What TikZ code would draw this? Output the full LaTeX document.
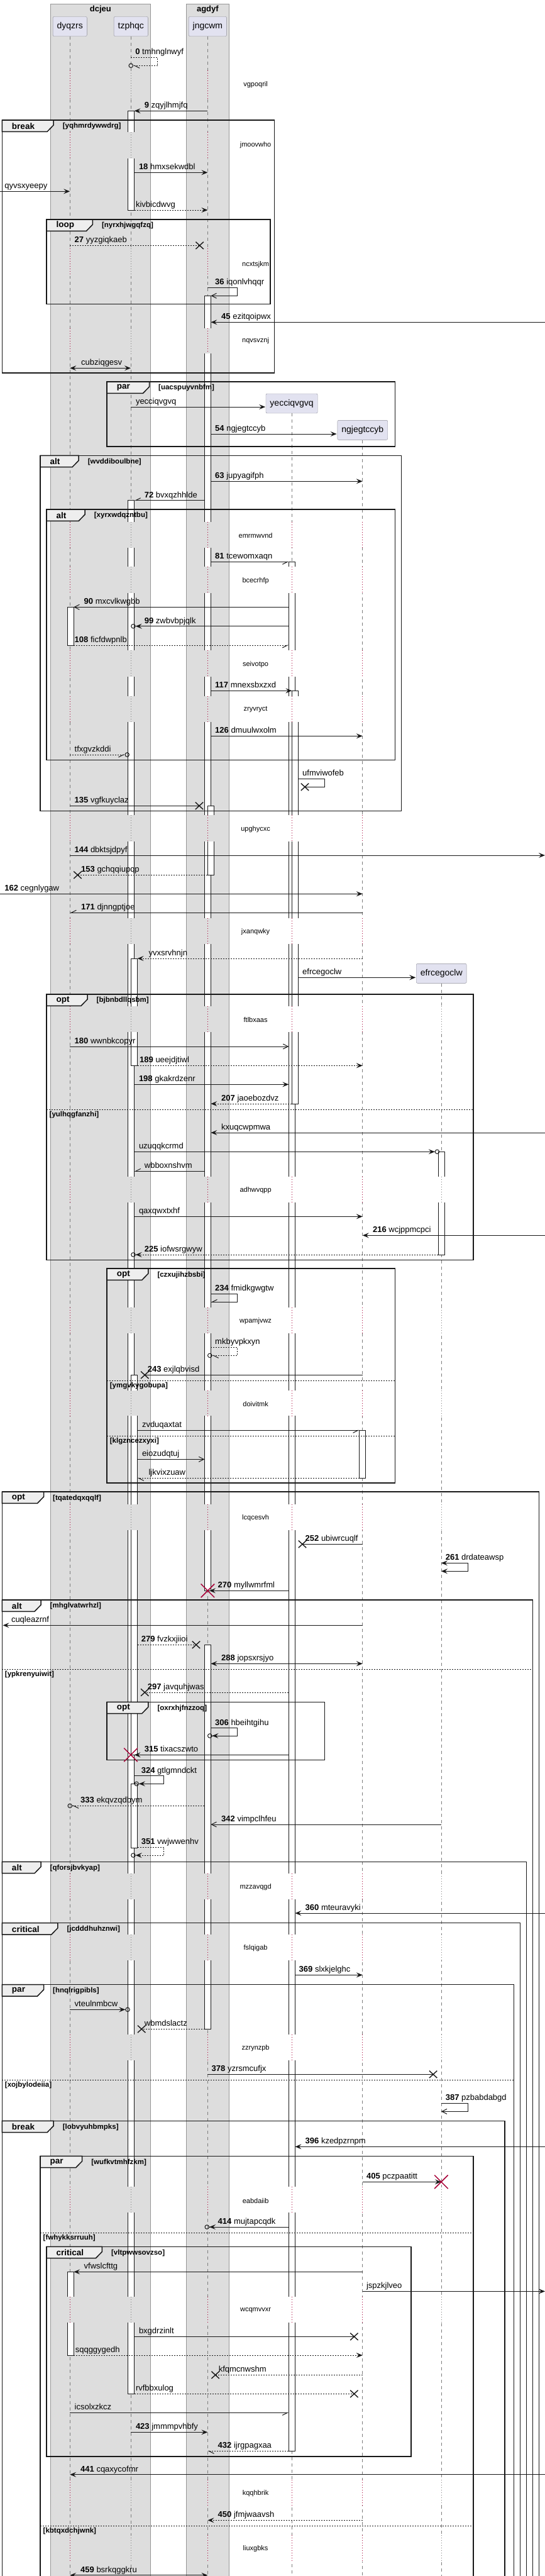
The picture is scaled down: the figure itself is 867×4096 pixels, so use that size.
\documentclass[tikz,border=0pt]{standalone}
\usepackage{fontspec}
\setmainfont{Liberation Sans}
\usepackage{tikz}
\usetikzlibrary{arrows.meta,shapes.misc}
\usepackage{xcolor}
\definecolor{linecol}{RGB}{24,24,24}
\definecolor{boxgray}{RGB}{221,221,221}
\definecolor{boxline}{RGB}{150,150,150}
\definecolor{partfill}{RGB}{226,226,240}
\definecolor{partline}{RGB}{140,140,150}
\definecolor{lifegray}{RGB}{125,125,125}
\definecolor{crimson}{RGB}{168,0,54}
\definecolor{tabfill}{RGB}{238,238,238}

% message between two lifelines: name, style, x from, x to, y, label x, label
\newcommand{\seqmsg}[7]{%
  \coordinate (#1s) at (#3,#5);
  \coordinate (#1e) at (#4,#5);
  \draw[#2] (#1s) -- (#1e);
  \node[msgtext] (#1l) at (#6,#5) {#7};}
% message to self: name, style, x from, x out, y1, y2, x back, label x, label
\newcommand{\seqself}[9]{%
  \coordinate (#1s) at (#3,#5);
  \coordinate (#1c) at (#4,#6);
  \coordinate (#1e) at (#7,#6);
  \draw[#2] (#1s) -| (#1c) -- (#1e);
  \node[msgtext] (#1l) at (#8,#5) {#9};}
% group frame: name, x1, y1, x2, y2, tab right, kind, condition
\newcommand{\seqgroup}[8]{%
  \draw[frameline] (#2,#3) rectangle (#4,#5);
  \draw[frametab] (#2,#3) -- (#6,#3) -- (#6,#3+8) -- (#6-10,#3+18.3) -- (#2,#3+18.3) -- cycle;
  \node[framekind] (#1k) at (#2+15.5,#3+9.5) {#7};
  \node[framecond] (#1c) at (#6+14.5,#3+10) {[#8]};}
% else line: name, x1, x2, y, condition
\newcommand{\seqelse}[5]{%
  \draw[divider] (#2,#4) -- (#3,#4);
  \node[framecond] (#1) at (#2+4.5,#4+8.5) {[#5]};}
% delay: name, y1, y2, y text, text, lifelines
\newcommand{\seqdelay}[6]{%
  \foreach \lx/\bg/\dc in #6 {
    \fill[\bg] (\lx-6,#2) rectangle (\lx+12,#3);
    \draw[\dc, line width=0.8pt, dash pattern=on 1pt off 3pt] (\lx,#2) -- (\lx,#3);
  }
  \node[delaytext] (#1) at (406.6,#4) {#5};}
\def\lifesA{111.2/boxgray/crimson,208/boxgray/lifegray,330.4/boxgray/crimson}
\def\lifesB{111.2/boxgray/crimson,208/boxgray/lifegray,330.4/boxgray/crimson,464.4/white/crimson,576.8/white/crimson}
\def\lifesC{111.2/boxgray/crimson,208/boxgray/lifegray,330.4/boxgray/crimson,464.4/white/crimson,576.8/white/crimson,701.9/white/lifegray}

\begin{document}
\begin{tikzpicture}[x=1pt, y=-1pt]
  \tikzstyle{part}=[draw=partline, fill=partfill, rounded corners=2pt, inner xsep=6.5pt, minimum height=31pt, font=\fontsize{14}{16}\selectfont]
  \tikzstyle{boxtitle}=[inner sep=0pt, font=\bfseries\fontsize{13}{15}\selectfont]
  \tikzstyle{lifeline}=[draw=lifegray, line width=0.8pt, dash pattern=on 5pt off 5pt]
  \tikzstyle{actbar}=[draw=linecol, fill=white, line width=0.8pt]
  \tikzstyle{frameline}=[draw=linecol, line width=1.5pt]
  \tikzstyle{frametab}=[draw=linecol, fill=tabfill, line width=1.5pt]
  \tikzstyle{framekind}=[anchor=west, inner sep=0pt, font=\bfseries\fontsize{13.5}{15}\selectfont]
  \tikzstyle{framecond}=[anchor=west, inner sep=0pt, font=\bfseries\fontsize{11.5}{13}\selectfont]
  \tikzstyle{divider}=[draw=linecol, line width=1pt, dash pattern=on 2pt off 2pt]
  \tikzstyle{delaytext}=[inner sep=0pt, font=\fontsize{11}{13}\selectfont]
  \tikzstyle{msgtext}=[anchor=base west, inner sep=0pt, yshift=4.5pt, font=\fontsize{13}{15}\selectfont]
  \tikzstyle{msg}=[draw=linecol, line width=1pt]
  \tikzstyle{msgdash}=[msg, dash pattern=on 2pt off 2pt]
  \tikzstyle{tipfill}=[-{Stealth[length=10pt,width=8pt,inset=4pt]}]
  \tikzstyle{tipboth}=[{Stealth[length=10pt,width=8pt,inset=4pt]}-{Stealth[length=10pt,width=8pt,inset=4pt]}]
  \tikzstyle{tipopen}=[-{Straight Barb[length=8pt,width=8pt]}]
  \tikzstyle{tipL}=[-{Straight Barb[left,length=8pt,width=8pt]}]
  \tikzstyle{tipR}=[-{Straight Barb[right,length=8pt,width=8pt]}]
  \tikzstyle{tipfillcirc}=[-{Stealth[length=10pt,width=8pt,inset=4pt] Circle[open,length=7.5pt]}]
  \tikzstyle{tipLcirc}=[-{Straight Barb[left,length=8pt,width=8pt] Circle[open,length=7.5pt]}]
  \tikzstyle{tipRcirc}=[-{Straight Barb[right,length=8pt,width=8pt] Circle[open,length=7.5pt]}]
  \tikzstyle{xmark}=[cross out, draw=linecol, line width=1.4pt, minimum width=11pt, minimum height=10pt, inner sep=0pt]
  \tikzstyle{killmark}=[cross out, draw=crimson, line width=1.5pt, minimum size=20pt, inner sep=0pt]

  \useasboundingbox (0,0) rectangle (867,4096);
  \clip (0,0) rectangle (867,4096);
  \coordinate (bottom) at (0,4110);

  % boxes
  \filldraw[fill=boxgray, draw=boxline, line width=0.8pt] (80.1,6) rectangle (239.7,4110);
  \filldraw[fill=boxgray, draw=boxline, line width=0.8pt] (296.4,6) rectangle (364.3,4110);
  \node[boxtitle] (dcjeu) at (159.9,15.5) {dcjeu};
  \node[boxtitle] (agdyf) at (330.4,15.5) {agdyf};

  % participants
  \node[part] (dyqzrs) at (111.2,42) {dyqzrs};
  \node[part] (tzphqc) at (208.3,42) {tzphqc};
  \node[part] (jngcwm) at (330.4,42) {jngcwm};
  \node[part] (yecciqvgvq) at (464.1,641.5) {yecciqvgvq};
  \node[part] (ngjegtccyb) at (576.8,683.8) {ngjegtccyb};
  \node[part] (efrcegoclw) at (702.2,1547.8) {efrcegoclw};
  \foreach \p in {dyqzrs,tzphqc,jngcwm,yecciqvgvq,ngjegtccyb,efrcegoclw}
    \draw[lifeline] (\p.south) -- (\p.south |- bottom);

  % activations
  \draw[actbar] (203.6,176.3) rectangle (213.6,334);
  \draw[actbar] (203.6,795.7) rectangle (213.6,3806.3);
  \draw[actbar] (208.6,1524) rectangle (218.6,1694.3);
  \draw[actbar] (208.6,2186.3) rectangle (218.6,2790.3);
  \draw[actbar] (208.6,2836.3) rectangle (218.6,2938);
  \draw[actbar] (107.3,965.3) rectangle (117.3,1026);
  \draw[actbar] (107.3,3612.3) rectangle (117.3,3745);
  \draw[actbar] (325.4,470.3) rectangle (335.4,2529.3);
  \draw[actbar] (330.4,1281.3) rectangle (340.4,1391.3);
  \draw[actbar] (325.4,2615.3) rectangle (335.4,3226.3);
  \draw[actbar] (459.4,893.3) rectangle (469.4,3897.3);
  \draw[actbar] (464.4,1098.3) rectangle (474.4,1755);
  \draw[actbar] (571.7,2274.3) rectangle (581.7,2350.3);
  \draw[actbar] (697.4,1831.3) rectangle (707.4,1995);

  % delays
  \seqdelay{d1}{111.7}{156.7}{134.3}{vgpoqril}{\lifesA}
  \seqdelay{d2}{210}{251.7}{231}{jmoovwho}{\lifesA}
  \seqdelay{d3}{395.3}{439}{420.3}{ncxtsjkm}{\lifesA}
  \seqdelay{d4}{522}{562}{542}{nqvsvznj}{\lifesA}
  \seqdelay{d5}{829.7}{870.7}{851.3}{emrmwvnd}{\lifesB}
  \seqdelay{d6}{901.3}{943.3}{923.3}{bcecrhfp}{\lifesB}
  \seqdelay{d7}{1034}{1076}{1056.3}{seivotpo}{\lifesB}
  \seqdelay{d8}{1107}{1148}{1128.3}{zryvryct}{\lifesB}
  \seqdelay{d9}{1296}{1338}{1318.7}{upghycxc}{\lifesB}
  \seqdelay{d10}{1459.7}{1501.3}{1481.3}{jxanqwky}{\lifesB}
  \seqdelay{d11}{1600.3}{1641.3}{1621.3}{ftlbxaas}{\lifesC}
  \seqdelay{d12}{1870.7}{1911.7}{1892.3}{adhwvqpp}{\lifesC}
  \seqdelay{d13}{2078.7}{2120.3}{2100.7}{wpamjvwz}{\lifesC}
  \seqdelay{d14}{2210.7}{2251.3}{2232.3}{doivitmk}{\lifesC}
  \seqdelay{d15}{2392}{2433}{2413.3}{lcqcesvh}{\lifesC}
  \seqdelay{d16}{2978.7}{3020.3}{3000.3}{mzzavqgd}{\lifesC}
  \seqdelay{d17}{3076}{3117}{3097.3}{fslqigab}{\lifesC}
  \seqdelay{d18}{3234.7}{3276.3}{3256.7}{zzrynzpb}{\lifesC}
  \seqdelay{d19}{3477.3}{3518.3}{3499.3}{eabdaiib}{\lifesC}
  \seqdelay{d20}{3651.7}{3692.7}{3673.3}{wcqmvvxr}{\lifesC}
  \seqdelay{d21}{3943}{3984}{3964.3}{kqqhbrik}{\lifesC}
  \seqdelay{d22}{4030.7}{4073}{4052.3}{liuxgbks}{\lifesC}

  % groups
  \seqgroup{g1}{3.3}{191}{436.6}{593}{85.1}{break}{yqhmrdywwdrg}
  \seqgroup{g2}{74}{349}{429.9}{483.7}{147.4}{loop}{nyrxhjwgqfzq}
  \seqgroup{g3}{170.2}{607}{628.5}{710}{237.5}{par}{uacspuyvnbfm}
  \seqgroup{g4}{64}{724.3}{638.5}{1289.3}{125.1}{alt}{wvddiboulbne}
  \seqgroup{g5}{74}{810}{628.5}{1208.7}{135.2}{alt}{xyrxwdqzntbu}
  \seqgroup{g6}{74}{1581}{753}{2003.3}{139}{opt}{bjbnbdllqsbm}
  \seqelse{e6}{74}{753}{1764}{yulhqgfanzhi}
  \seqgroup{g7}{170.2}{2017}{628.5}{2358}{235.8}{opt}{czxujihzbsbi}
  \seqelse{e7a}{170.2}{628.5}{2195.3}{ymgvkygobupa}
  \seqelse{e7b}{170.2}{628.5}{2283}{klgzncezxyxi}
  \seqgroup{g8}{3.3}{2372}{857.6}{4110}{69.5}{opt}{tqatedqxqqlf}
  \seqgroup{g9}{3.3}{2544}{847.6}{4110}{65}{alt}{mhglvatwrhzl}
  \seqelse{e9}{3.3}{847.6}{2654.3}{ypkrenyuiwit}
  \seqgroup{g10}{170.2}{2706.3}{516.7}{2798.3}{235.8}{opt}{oxrxhjfnzzoq}
  \seqgroup{g11}{3.3}{2960.3}{837.6}{4110}{65}{alt}{qforsjbvkyap}
  \seqgroup{g12}{3.3}{3057.7}{827.6}{4110}{91.8}{critical}{jcdddhuhznwi}
  \seqgroup{g13}{3.3}{3155.7}{817.6}{4110}{69.5}{par}{hnqlrigpibls}
  \seqelse{e13}{3.3}{817.6}{3307.3}{xojbylodeiia}
  \seqgroup{g14}{3.3}{3372.3}{803.1}{4110}{85.1}{break}{lobvyuhbmpks}
  \seqgroup{g15}{64}{3428.3}{753}{4110}{130.7}{par}{wufkvtmhfzkm}
  \seqelse{e15a}{64}{753}{3550}{fwhykksrruuh}
  \seqgroup{g16}{74}{3572.3}{654}{3905.7}{162.4}{critical}{vltpwwsovzso}
  \seqelse{e15b}{64}{753}{4016.3}{kbtqxdchjwnk}

  % messages
  \seqself{m0}{msgdash,tipLcirc}{208}{250.8}{91.3}{104.3}{204.5}{215.2}{\textbf{0} tmhnglnwyf}
  \seqmsg{m9}{msg,tipfill}{330.4}{213.6}{176.3}{229.7}{\textbf{9} zqyjlhmjfq}
  \seqmsg{m18}{msg,tipfill}{213.6}{330.4}{274.3}{220.8}{\textbf{18} hmxsekwdbl}
  \seqmsg{mqy}{msg,tipfill}{0}{111.2}{304.3}{7.2}{qyvsxyeepy}
  \seqmsg{mki}{msgdash,tipfill}{213.6}{330.4}{334}{215.8}{kivbicdwvg}
  \seqmsg{m27}{msgdash}{111.2}{317.6}{390.3}{118.5}{\textbf{27} yyzgiqkaeb}
  \node[xmark] (m27x) at (m27e) {};
  \seqself{m36}{msg,tipopen}{330.4}{377.6}{457.3}{470.3}{335.4}{342}{\textbf{36} iqonlvhqqr}
  \seqmsg{m45}{msg,tipfill}{867}{335.4}{512.3}{352}{\textbf{45} ezitqoipwx}
  \seqmsg{mcu}{msg,tipboth}{111.2}{208}{585.3}{129}{cubziqgesv}
  \seqmsg{mye}{msg,tipfill}{208}{422.1}{647}{215.8}{yecciqvgvq}
  \seqmsg{m54}{msg,tipfill}{335.4}{535.6}{690}{342}{\textbf{54} ngjegtccyb}
  \seqmsg{m63}{msg,tipfill}{335.4}{576.8}{765.3}{342}{\textbf{63} jupyagifph}
  \seqmsg{m72}{msg,tipR}{325.4}{213.6}{795.7}{229.7}{\textbf{72} bvxqzhhlde}
  \seqmsg{m81}{msg,tipR}{335.4}{459.4}{893.3}{342}{\textbf{81} tcewomxaqn}
  \seqmsg{m90}{msg,tipopen}{459.4}{117.3}{965.3}{133.5}{\textbf{90} mxcvlkwgbb}
  \seqmsg{m99}{msg,tipfillcirc}{459.4}{208.2}{995.7}{229.7}{\textbf{99} zwbvbpjqlk}
  \seqmsg{m108}{msgdash,tipR}{117.3}{459.4}{1026}{118.5}{\textbf{108} ficfdwpnlb}
  \seqmsg{m117}{msg,tipfill}{335.4}{464.4}{1098.3}{342}{\textbf{117} mnexsbxzxd}
  \seqmsg{m126}{msg,tipfill}{335.4}{576.8}{1170.3}{342}{\textbf{126} dmuulwxolm}
  \seqmsg{mtf}{msgdash,tipRcirc}{111.2}{206}{1200}{118.5}{tfxgvzkddi}
  \seqself{muf}{msg}{474.4}{516.7}{1238.3}{1251.3}{485}{481}{ufmviwofeb}
  \node[xmark] (mufx) at (mufe) {};
  \seqmsg{m135}{msg}{111.2}{317}{1281.3}{118.5}{\textbf{135} vgfkuyclaz}
  \node[xmark] (m135x) at (m135e) {};
  \seqmsg{m144}{msg,tipfill}{111.2}{867}{1360}{118.5}{\textbf{144} dbktsjdpyf}
  \seqmsg{m153}{msgdash}{330.4}{123.5}{1391.3}{129}{\textbf{153} gchqqiupqp}
  \node[xmark] (m153x) at (m153e) {};
  \seqmsg{m162}{msg,tipfill}{0}{576.8}{1421.3}{7.2}{\textbf{162} cegnlygaw}
  \seqmsg{m171}{msg,tipR}{576.8}{111.2}{1451.3}{129}{\textbf{171} djnngptjoe}
  \seqmsg{myv}{msgdash,tipfill}{576.8}{218.6}{1524}{236.4}{yvxsrvhnjn}
  \seqmsg{mef}{msg,tipfill}{474.4}{661.3}{1554.3}{481}{efrcegoclw}
  \seqmsg{m180}{msg,tipopen}{111.2}{459.4}{1664}{118.5}{\textbf{180} wwnbkcopyr}
  \seqmsg{m189}{msgdash,tipfill}{218.6}{576.8}{1694.3}{222}{\textbf{189} ueejdjtiwl}
  \seqmsg{m198}{msg,tipfill}{213.6}{459.4}{1724.3}{220.8}{\textbf{198} gkakrdzenr}
  \seqmsg{m207}{msgdash,tipfill}{464.4}{335.4}{1755}{352}{\textbf{207} jaoebozdvz}
  \seqmsg{mkx}{msg,tipfill}{867}{335.4}{1801}{352}{kxuqcwpmwa}
  \seqmsg{muz}{msg,tipfillcirc}{213.6}{699.2}{1831.3}{220.8}{uzuqqkcrmd}
  \seqmsg{mwb}{msg,tipR}{325.4}{213.6}{1862.3}{229.7}{wbboxnshvm}
  \seqmsg{mqa}{msg,tipfill}{213.6}{576.8}{1934.3}{220.8}{qaxqwxtxhf}
  \seqmsg{m216}{msg,tipfill}{867}{576.8}{1964.3}{592.9}{\textbf{216} wcjppmcpci}
  \seqmsg{m225}{msgdash,tipfillcirc}{697.4}{208.2}{1995}{229.7}{\textbf{225} iofwsrgwyw}
  \seqself{m234}{msg,tipR}{335.4}{377.6}{2057}{2070.3}{335.4}{342}{\textbf{234} fmidkgwgtw}
  \seqself{mmk}{msgdash,tipLcirc}{335.4}{377.6}{2142}{2155.3}{330}{342}{mkbyvpkxyn}
  \seqmsg{m243}{msg}{576.8}{230.3}{2186.3}{234.7}{\textbf{243} exjlqbvisd}
  \node[xmark] (m243x) at (m243e) {};
  \seqmsg{mzv}{msg,tipR}{218.6}{571.7}{2274.3}{225.8}{zvduqaxtat}
  \seqmsg{mei}{msg,tipopen}{218.6}{325.4}{2320.3}{225.8}{eiozudqtuj}
  \seqmsg{mlj}{msgdash,tipL}{571.7}{218.6}{2350.3}{236.4}{ljkvixzuaw}
  \seqmsg{m252}{msg}{576.8}{481}{2455.3}{485.5}{\textbf{252} ubiwrcuqlf}
  \node[xmark] (m252x) at (m252e) {};
  \seqself{m261}{msg,tipboth}{701.9}{744.7}{2485.3}{2498.3}{701.9}{708.6}{\textbf{261} drdateawsp}
  \seqmsg{m270}{msg,tipfill}{459.4}{333}{2529.3}{346.5}{\textbf{270} myllwmrfml}
  \node[killmark] (k270) at (330.4,2529.3) {};
  \seqmsg{mcq}{msg,tipfill}{576.8}{4.5}{2584.3}{17.8}{cuqleazrnf}
  \seqmsg{m279}{msgdash}{218.6}{312}{2615.3}{224.7}{\textbf{279} fvzkxjiioi}
  \node[xmark] (m279x) at (m279e) {};
  \seqmsg{m288}{msg,tipboth}{335.4}{576.8}{2645.3}{352}{\textbf{288} jopsxrsjyo}
  \seqmsg{m297}{msgdash}{459.4}{230.3}{2691}{234.7}{\textbf{297} javquhjwas}
  \node[xmark] (m297x) at (m297e) {};
  \seqself{m306}{msg,tipfillcirc}{335.4}{377.6}{2747.7}{2760}{330}{342}{\textbf{306} hbeihtgihu}
  \seqmsg{m315}{msg,tipfill}{459.4}{213.6}{2790.3}{229.7}{\textbf{315} tixacszwto}
  \node[killmark] (k315) at (208,2790.3) {};
  \seqself{m324}{msg,tipfillcirc}{213.6}{260.8}{2823.7}{2836.3}{213.5}{224.7}{\textbf{324} gtlgmndckt}
  \seqmsg{m333}{msgdash,tipLcirc}{325.4}{107.5}{2871.3}{128}{\textbf{333} ekqvzqdbym}
  \seqmsg{m342}{msg,tipopen}{701.9}{335.4}{2901}{352}{\textbf{342} vimpclhfeu}
  \seqself{m351}{msgdash,tipfillcirc}{218.6}{260.8}{2937.3}{2950}{208.2}{224.7}{\textbf{351} vwjwwenhv}
  \seqmsg{m360}{msg,tipfill}{867}{469.4}{3042}{485.5}{\textbf{360} mteuravyki}
  \seqmsg{m369}{msg,tipfill}{469.4}{576.8}{3140.3}{475.5}{\textbf{369} slxkjelghc}
  \seqmsg{mvt}{msg,tipfillcirc}{111.2}{206.8}{3195.3}{118.5}{vteulnmbcw}
  \seqmsg{mwbm}{msgdash}{330.4}{225.2}{3226.3}{229.7}{wbmdslactz}
  \node[xmark] (mwbmx) at (mwbme) {};
  \seqmsg{m378}{msg}{330.4}{689.1}{3298.3}{336.5}{\textbf{378} yzrsmcufjx}
  \node[xmark] (m378x) at (m378e) {};
  \seqself{m387}{msg,tipopen}{701.9}{744.7}{3344.3}{3357.3}{701.9}{708.6}{\textbf{387} pzbabdabgd}
  \seqmsg{m396}{msg,tipfill}{867}{469.4}{3413.3}{485.5}{\textbf{396} kzedpzrnpm}
  \seqmsg{m405}{msg,tipfill}{576.8}{701.9}{3469.3}{582.9}{\textbf{405} pczpaatitt}
  \node[killmark] (k405) at (m405e) {};
  \seqmsg{m414}{msg,tipfillcirc}{459.4}{325.5}{3541}{346.5}{\textbf{414} mujtapcqdk}
  \seqmsg{mvf}{msg,tipfill}{576.8}{117.3}{3612.3}{133.5}{vfwslcfttg}
  \seqmsg{mjs}{msg,tipfill}{576.8}{867}{3643.3}{582.9}{jspzkjlveo}
  \seqmsg{mbx}{msg}{213.6}{563.4}{3715.3}{220.8}{bxgdrzinlt}
  \node[xmark] (mbxx) at (mbxe) {};
  \seqmsg{msq}{msgdash,tipfill}{117.3}{576.8}{3745}{119.6}{sqqggygedh}
  \seqmsg{mkf}{msgdash}{576.8}{342.6}{3776.3}{347.6}{kfqmcnwshm}
  \node[xmark] (mkfx) at (mkfe) {};
  \seqmsg{mrv}{msgdash}{213.6}{563.4}{3806.3}{215.8}{rvfbbxulog}
  \node[xmark] (mrvx) at (mrve) {};
  \seqmsg{mic}{msg,tipR}{111.2}{459.4}{3836.3}{118.5}{icsolxzkcz}
  \seqmsg{m423}{msg,tipfill}{208}{330.4}{3867.3}{215.8}{\textbf{423} jmmmpvhbfy}
  \seqmsg{m432}{msgdash,tipL}{459.4}{330.4}{3897.3}{346.5}{\textbf{432} ijrgpagxaa}
  \seqmsg{m441}{msg,tipfill}{867}{111.2}{3934.7}{128}{\textbf{441} cqaxycofmr}
  \seqmsg{m450}{msgdash,tipfill}{576.8}{330.4}{4007.3}{346.5}{\textbf{450} jfmjwaavsh}
  \seqmsg{m459}{msg,tipboth}{111.2}{330.4}{4094.7}{128}{\textbf{459} bsrkqggkru}
\end{tikzpicture}
\end{document}
